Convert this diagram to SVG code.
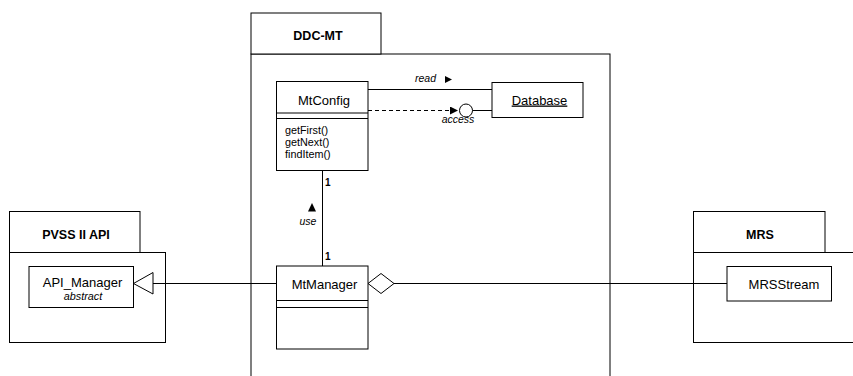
<svg xmlns="http://www.w3.org/2000/svg" width="853" height="376" viewBox="0 0 853 376">
<defs>
<style>
.b{fill:#fff;stroke:#000;stroke-width:1}
.l{fill:none;stroke:#000;stroke-width:1}
.t{font-family:"Liberation Sans",Arial,sans-serif;fill:#000}
.pk{font-size:12.5px;font-weight:bold;text-anchor:middle}
.cn{font-size:13px;text-anchor:middle}
.op{font-size:10.8px}
.it{font-size:10.5px;font-style:italic}
.m{font-size:10px;font-weight:bold}
</style>
<marker id="open" markerWidth="10" markerHeight="10" refX="8" refY="4" orient="auto" markerUnits="userSpaceOnUse">
<path d="M0,0 L8,4 L0,8 Z" fill="#000"/>
</marker>
</defs>
<rect width="853" height="376" fill="#fff"/>

<g id="pkg-ddcmt">
<rect class="b" x="251" y="54" width="359" height="330"/>
<rect class="b" x="251" y="13" width="130" height="41"/>
<text class="t pk" x="318" y="40">DDC-MT</text>
</g>

<g id="pkg-pvss">
<rect class="b" x="9.5" y="252.5" width="156" height="90"/>
<rect class="b" x="9.5" y="211.5" width="130.5" height="41"/>
<text class="t pk" x="76" y="238.5">PVSS II API</text>
</g>

<g id="pkg-mrs">
<rect class="b" x="693.5" y="252.5" width="170" height="90"/>
<rect class="b" x="693.5" y="211.5" width="131.5" height="41"/>
<text class="t pk" x="760" y="238.5">MRS</text>
</g>

<g id="connectors">
<line class="l" x1="368" y1="89.5" x2="492" y2="89.5"/>
<line class="l" x1="368" y1="110.5" x2="458" y2="110.5" stroke-dasharray="4,3" marker-end="url(#open)"/>
<circle class="b" cx="466" cy="110.5" r="6.5"/>
<line class="l" x1="472.5" y1="110.5" x2="492" y2="110.5"/>
<line class="l" x1="322.5" y1="170" x2="322.5" y2="266"/>
<line class="l" x1="153" y1="283.5" x2="276" y2="283.5"/>
<path class="b" d="M153,272.5 L133.5,283.5 L153,294 Z"/>
<path class="b" d="M368,283.5 L381,273.5 L394,283.5 L381,293.5 Z"/>
<line class="l" x1="394" y1="283.5" x2="727" y2="283.5"/>
<text class="t it" x="415" y="82">read</text>
<path d="M445,76 L452,79.5 L445,83 Z" fill="#000"/>
<text class="t it" x="458" y="123" text-anchor="middle">access</text>
<text class="t m" x="325" y="186">1</text>
<text class="t m" x="325" y="260">1</text>
<path d="M312,203 L316,211.5 L308,211.5 Z" fill="#000"/>
<text class="t it" x="308" y="225" text-anchor="middle">use</text>
</g>

<g id="mtconfig">
<rect class="b" x="276.5" y="81.5" width="91.5" height="89"/>
<line class="l" x1="276.5" y1="113" x2="368" y2="113"/>
<line class="l" x1="276.5" y1="118.5" x2="368" y2="118.5"/>
<text class="t cn" x="324" y="105">MtConfig</text>
<text class="t op" x="285" y="134">getFirst()</text>
<text class="t op" x="285" y="146">getNext()</text>
<text class="t op" x="285" y="158">findItem()</text>
</g>

<g id="database">
<rect class="b" x="492" y="82.5" width="91" height="35"/>
<text class="t cn" x="539.5" y="104.5" text-decoration="underline">Database</text>
</g>

<g id="mtmanager">
<rect class="b" x="276.5" y="266" width="91.5" height="83"/>
<line class="l" x1="276.5" y1="300.5" x2="368" y2="300.5"/>
<line class="l" x1="276.5" y1="307.5" x2="368" y2="307.5"/>
<text class="t cn" x="324.5" y="289">MtManager</text>
</g>

<g id="api-manager">
<rect class="b" x="29" y="266.5" width="104.5" height="41"/>
<text class="t cn" x="82.5" y="287">API_Manager</text>
<text class="t it" x="83" y="299.5" text-anchor="middle" style="font-size:10.8px">abstract</text>
</g>

<g id="mrsstream">
<rect class="b" x="727" y="266.5" width="104.5" height="34.5"/>
<text class="t cn" x="784" y="289">MRSStream</text>
</g>
</svg>
